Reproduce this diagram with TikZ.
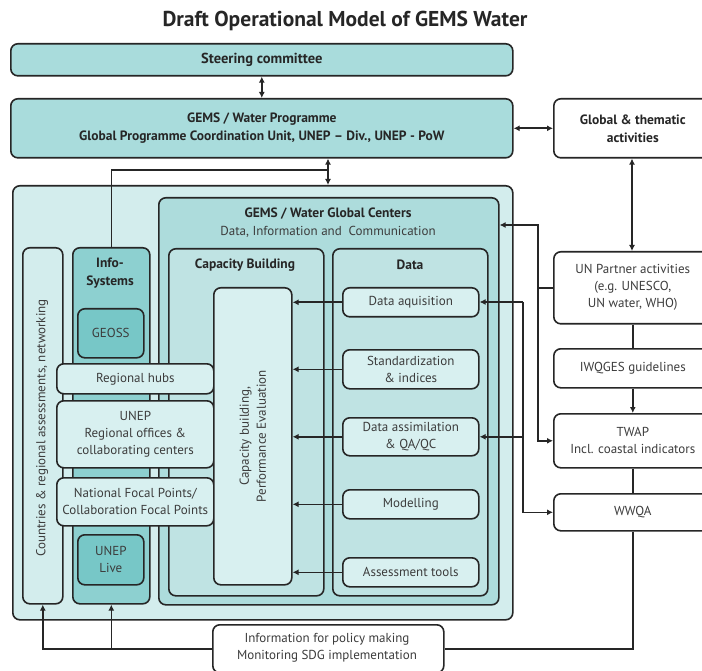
\documentclass[tikz,border=0pt]{standalone}
\usepackage{fontspec}
\setmainfont{PT Sans}
\usetikzlibrary{arrows.meta,calc}
\definecolor{tealA}{HTML}{A9DCDC}
\definecolor{tealOuter}{HTML}{D3EDED}
\definecolor{tealGC}{HTML}{ADDCDC}
\definecolor{tealCB}{HTML}{BFE3E3}
\definecolor{tealItem}{HTML}{D8F0F0}
\definecolor{tealInfo}{HTML}{8DD0D0}
\definecolor{tealGeo}{HTML}{77C7C7}
\definecolor{ink}{HTML}{262626}
\definecolor{txt}{HTML}{3C3C3C}
\tikzset{
  box/.style={draw=ink, line width=1.6pt, rounded corners=7pt, inner sep=0pt,
    anchor=north west, align=center, text=txt},
  lbl/.style={inner sep=0pt, align=center, text=txt, font=\fontsize{13}{17}\selectfont},
  blbl/.style={inner sep=0pt, align=center, text=ink, font=\bfseries\fontsize{13.5}{18}\selectfont},
  conn/.style={draw=ink, line width=1.6pt},
  arr/.style={conn, -{Latex[length=6pt,width=6pt]}},
  darr/.style={conn, {Latex[length=6pt,width=6pt]}-{Latex[length=6pt,width=6pt]}},
}
\newcommand\bx[7][]{\node[box,#1,fill=#6,minimum width={#4-#2},minimum height={#5-#3}] (#7) at (#2,#3) {};}
\begin{document}
\begin{tikzpicture}[x=1pt,y=-1pt]
\useasboundingbox (0,0) rectangle (702,671);
\clip (0,0) rectangle (702,671);
\fill[white] (0,0) rectangle (702,671);
% title
\node[inner sep=0pt, text=ink, font=\bfseries\fontsize{21.5}{24}\selectfont] (title) at (345,21) {Draft Operational Model of GEMS Water};
% top boxes
\bx{10}{43}{512}{75}{tealA}{steer}
\node[blbl, font=\bfseries\fontsize{14.5}{18}\selectfont] (steerlbl) at (steer.center) {Steering committee};
\bx{10}{98}{512}{157}{tealA}{prog}
\node[blbl] (proglbl) at (prog.center) {GEMS / Water Programme\\Global Programme Coordination Unit, UNEP – Div., UNEP - PoW};
% right column
\bx{553}{98}{711}{157}{white}{glob}
\node[blbl] (globlbl) at (glob.center) {Global \& thematic\\activities};
\bx{553}{251}{711}{323}{white}{unp}
\node[lbl] (unplbl) at (unp.center) {UN Partner activities\\(e.g. UNESCO,\\UN water, WHO)};
\bx{553}{348}{711}{387}{white}{iwq}
\node[lbl] (iwqlbl) at (iwq.center) {IWQGES guidelines};
\bx{553}{413}{711}{467}{white}{twap}
\node[lbl] (twaplbl) at (twap.center) {TWAP\\Incl. coastal indicators};
\bx{553}{493}{711}{530}{white}{wwqa}
\node[lbl] (wwqalbl) at (wwqa.center) {WWQA};
% outer region
\bx{12}{185}{512}{619}{tealOuter}{outer}
\bx{158}{197}{498}{604}{tealGC}{gc}
\node[blbl] (gclbl) at (328,214) {GEMS / Water Global Centers};
\node[lbl] (gcsub) at (328,232) {Data, Information and\ \ Communication};
\bx{168}{248}{323}{595}{tealCB}{cb}
\node[blbl] (cblbl) at (245,265) {Capacity Building};
\bx{332}{248}{487}{595}{tealCB}{data}
\node[blbl] (datalbl) at (410,265) {Data};
% data items
\bx{342}{287}{478}{316}{tealItem}{da}
\node[lbl] at (da.center) {Data aquisition};
\bx{342}{349}{478}{388}{tealItem}{std}
\node[lbl] at (std.center) {Standardization\\\& indices};
\bx{342}{417}{478}{455}{tealItem}{dass}
\node[lbl] at (dass.center) {Data assimilation\\\& QA/QC};
\bx{342}{489}{478}{518}{tealItem}{mod}
\node[lbl] at (mod.center) {Modelling};
\bx{342}{557}{478}{586}{tealItem}{tools}
\node[lbl] at (tools.center) {Assessment tools};
% left columns
\bx{22}{247}{62}{603}{tealOuter}{ctry}
\node[lbl, rotate=90] (ctrylbl) at (42,428) {Countries \& regional assessments, networking};
\bx{72}{247}{149}{603}{tealInfo}{info}
\node[blbl] (infolbl) at (110,273) {Info-\\Systems};
\bx{77}{308}{143}{357}{tealGeo}{geoss}
\node[lbl] at (geoss.center) {GEOSS};
\bx{77}{534}{143}{584}{tealGeo}{live}
\node[lbl] at (live.center) {UNEP\\Live};
% horizontal bands
\bx{56}{363}{213}{393}{tealItem}{hubs}
\node[lbl] at (hubs.center) {Regional hubs};
\bx{56}{400}{213}{467}{tealItem}{roff}
\node[lbl] at (roff.center) {UNEP\\Regional offices \&\\collaborating centers};
\bx{56}{477}{213}{525}{tealItem}{nfp}
\node[lbl] at (nfp.center) {National Focal Points/\\Collaboration Focal Points};
% capacity building inner
\bx{213}{287}{291}{584}{tealItem}{cbin}
\node[lbl, rotate=90] (cbinlbl) at (cbin.center) {Capacity building,\\Performance Evaluation};
% info for policy
\bx{212}{624}{443}{672}{white}{pol}
\node[lbl] (pollbl) at (327,648) {Information for policy making\\Monitoring SDG implementation};
% connectors
\draw[darr] (steer.south) -- (prog.north);
\draw[darr] (prog.east) -- (glob.west);
\coordinate (j1) at (328,170);
\draw[darr] (prog.south -| j1) -- (outer.north -| j1);
\draw[conn] (info.north) |- (j1);
\draw[darr] (glob.south -| 632,0) -- (unp.north -| 632,0);
\draw[conn] (unp.south) -- (iwq.north);
\draw[arr] (iwq.south) -- (twap.north);
\draw[conn] (twap.south) -- (wwqa.north);
\draw[conn] (wwqa.south) |- (pol.east);
\draw[arr] (pol.west) -| (ctry.south);
\draw[arr] (pol.west) -| (info.south);
\coordinate (k1) at (538,225);
\draw[arr] (unp.west) -| (k1) -- (k1 -| gc.east);
\draw[arr] (k1) |- (twap.west);
\coordinate (k2) at (523,302);
\draw[arr] (k2) -- (k2 -| da.east);
\draw[arr] (k2) |- (wwqa.west);
\draw[arr] (dass.east -| k2) -- (dass.east);
\foreach \n in {da,std,dass,mod,tools}{
  \draw[arr] (\n.west) -- (\n.west -| cbin.east);
}
\end{tikzpicture}
\end{document}
